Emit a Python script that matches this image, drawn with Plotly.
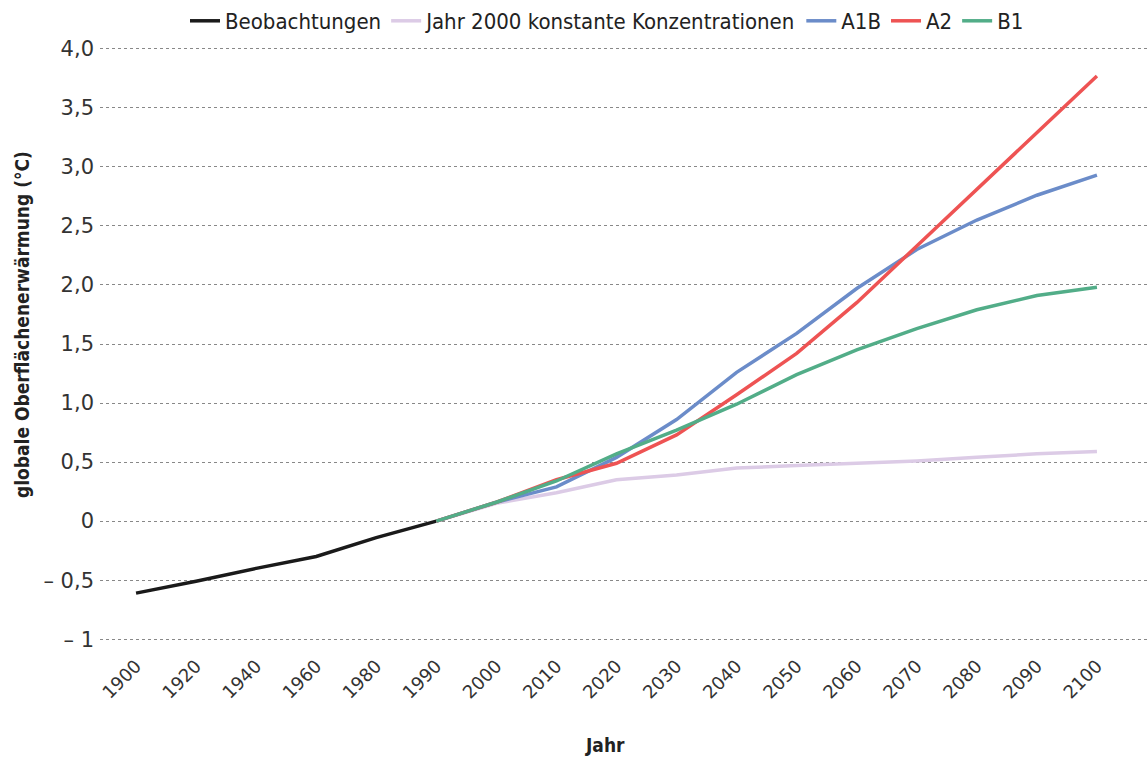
import plotly.graph_objects as go

years = ["1900", "1920", "1940", "1960", "1980", "1990", "2000", "2010", "2020",
         "2030", "2040", "2050", "2060", "2070", "2080", "2090", "2100"]
idx = list(range(len(years)))

obs_years_idx = idx[:6]
beobachtungen = [-0.61, -0.51, -0.40, -0.30, -0.14, 0.0]

proj_idx = idx[5:]
konstant = [0.0, 0.15, 0.24, 0.35, 0.39, 0.45, 0.47, 0.49, 0.51, 0.54, 0.57, 0.59]
a1b = [0.0, 0.16, 0.29, 0.54, 0.86, 1.26, 1.59, 1.97, 2.30, 2.55, 2.76, 2.93]
a2 = [0.0, 0.16, 0.35, 0.49, 0.73, 1.07, 1.42, 1.85, 2.33, 2.81, 3.29, 3.77]
b1 = [0.0, 0.16, 0.34, 0.57, 0.77, 0.99, 1.24, 1.45, 1.63, 1.79, 1.91, 1.98]

y_ticks = [4.0, 3.5, 3.0, 2.5, 2.0, 1.5, 1.0, 0.5, 0.0, -0.5, -1.0]
y_labels = ["4,0", "3,5", "3,0", "2,5", "2,0", "1,5", "1,0", "0,5", "0", "– 0,5", "– 1"]

narrow = "DejaVu Sans Condensed, Liberation Sans Narrow, sans-serif"
tickfont = "DejaVu Sans, sans-serif"

fig = go.Figure()
series = [
    ("Beobachtungen", obs_years_idx, beobachtungen, "#1a1a1a"),
    ("Jahr 2000 konstante Konzentrationen", proj_idx, konstant, "#dccbe6"),
    ("A1B", proj_idx, a1b, "#6b8cc9"),
    ("A2", proj_idx, a2, "#ee5353"),
    ("B1", proj_idx, b1, "#52ad88"),
]
for name, xs, ys, col in series:
    fig.add_trace(go.Scatter(x=xs, y=ys, name=name, mode="lines",
                             line=dict(color=col, width=3.5)))

fig.update_layout(
    width=1148, height=758,
    margin=dict(l=100, r=0, t=37, b=107, autoexpand=False),
    plot_bgcolor="white", paper_bgcolor="white",
    showlegend=True,
    legend=dict(orientation="h", x=607 / 1148, xanchor="center", xref="container",
                y=1 - 21 / 758, yanchor="middle", yref="container",
                font=dict(family=narrow, size=22, color="#222"),
                itemwidth=30, tracegroupgap=0),
    xaxis=dict(range=[-0.6, 16.85], tickmode="array", tickvals=idx, ticktext=years,
               tickangle=-45, showgrid=False, zeroline=False, showline=False,
               automargin=False,
               ticks="", tickfont=dict(family=tickfont, size=18, color="#333")),
    yaxis=dict(range=[-1.1, 4.1], tickmode="array", tickvals=y_ticks, ticktext=y_labels,
               showgrid=True, gridcolor="#888", griddash="dot", gridwidth=1,
               zeroline=False, showline=False, ticks="", automargin=False,
               ticklabelstandoff=5,
               tickfont=dict(family=tickfont, size=21, color="#333")),
    annotations=[
        dict(text="<b>globale Oberflächenerwärmung (°C)</b>",
             xref="x domain", yref="y domain",
             x=(22 - 100) / 1048, xanchor="center", y=(651 - 325) / 614, yanchor="middle",
             textangle=-90, showarrow=False,
             font=dict(family=narrow, size=19, color="#222")),
        dict(text="<b>Jahr</b>", xref="x domain", yref="y domain",
             x=(605 - 100) / 1048, xanchor="center", y=(651 - 745) / 614, yanchor="middle",
             showarrow=False, font=dict(family=narrow, size=19, color="#222")),
    ],
)

fig.write_html("out.html", config={"displayModeBar": False},
               post_script="document.body.style.margin='0';document.body.style.overflow='hidden';")
